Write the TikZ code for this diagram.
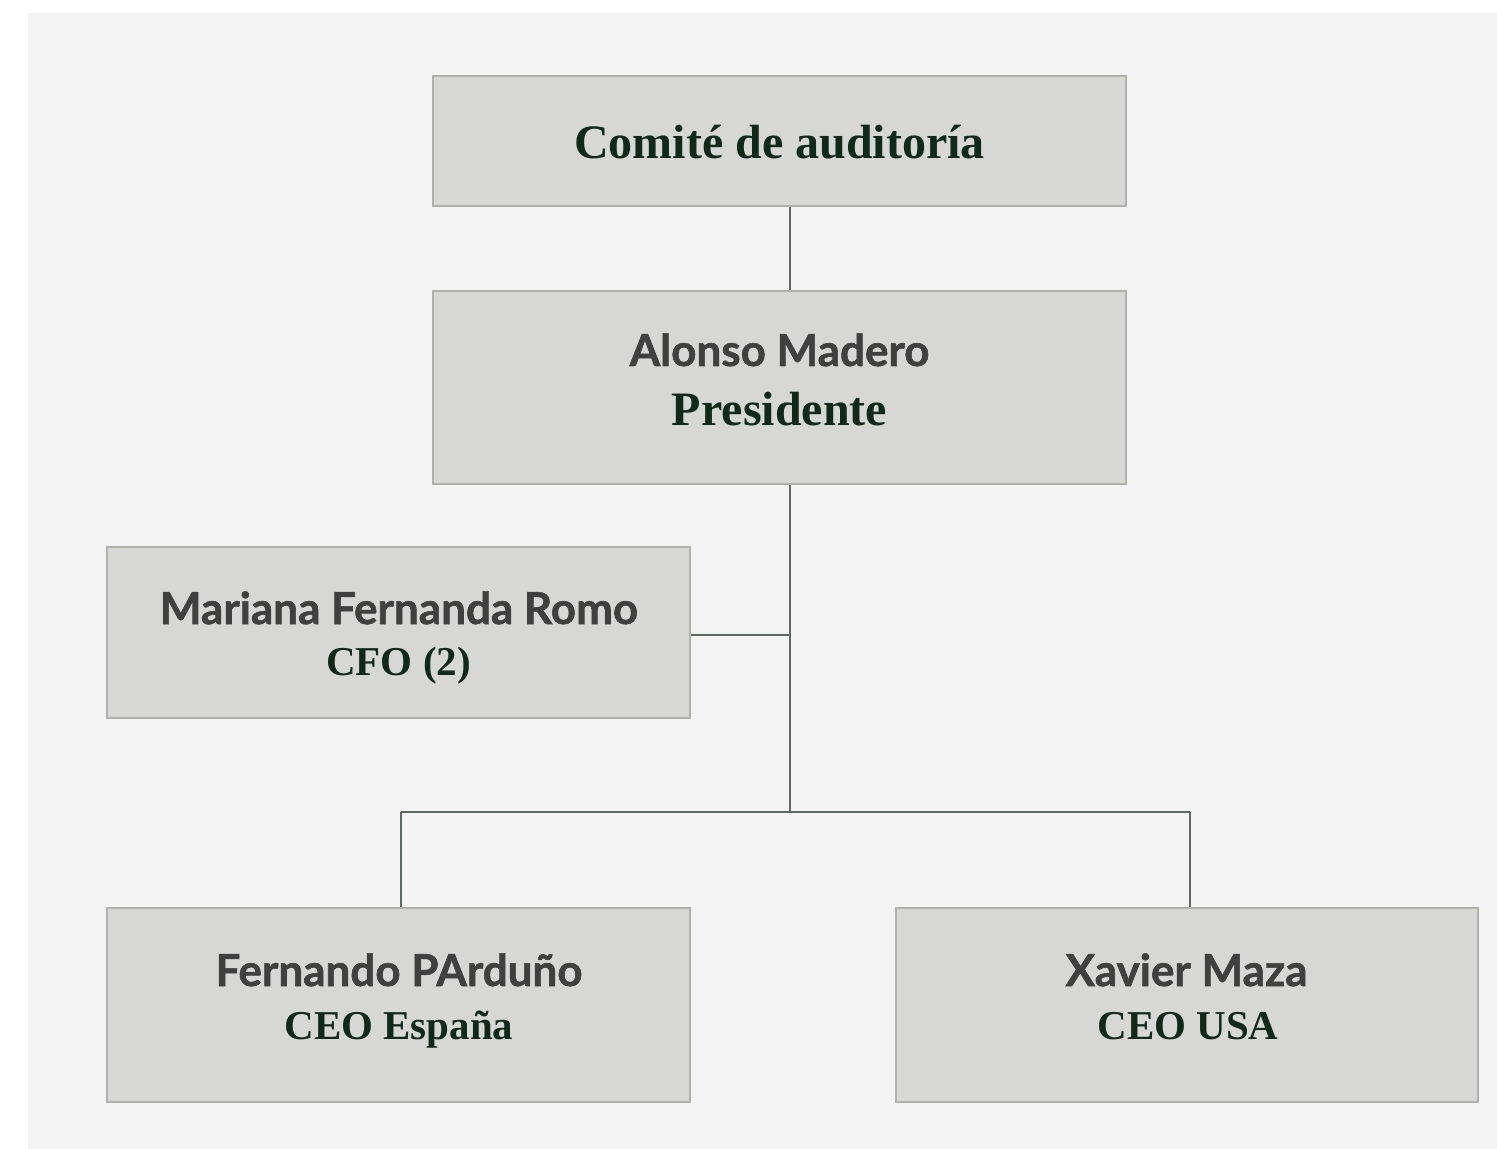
\documentclass[tikz,border=0pt]{standalone}
\usepackage{fontspec}
\setmainfont{Liberation Serif}
\newfontfamily\namefont{Lato}[BoldFeatures={FakeBold=1.3}]
\definecolor{bgc}{HTML}{F3F3F3}
\definecolor{boxfill}{HTML}{D7D7D5}
\definecolor{boxline}{HTML}{B1B1AC}
\definecolor{conn}{HTML}{5B6B5F}
\definecolor{namec}{HTML}{404040}
\definecolor{titlec}{HTML}{0F2A1A}
\tikzset{
  box/.style={draw=boxline, fill=boxfill, line width=1.3pt, inner sep=0pt},
  nametxt/.style={anchor=base, inner sep=0pt, text=namec, font=\namefont\bfseries\fontsize{22}{26}\selectfont},
  bigtitle/.style={anchor=base, inner sep=0pt, text=titlec, font=\bfseries\fontsize{24}{28}\selectfont},
  smalltitle/.style={anchor=base, inner sep=0pt, text=titlec, font=\bfseries\fontsize{20.5}{24}\selectfont},
  link/.style={draw=conn, line width=1.4pt}
}
\begin{document}
\begin{tikzpicture}[x=0.5pt,y=-0.5pt]
\useasboundingbox (0,0) rectangle (1497,1149);
\fill[bgc] (28,13) rectangle (1497,1149);
% boxes
\node[box, minimum width=346.5pt, minimum height=65pt] (top) at (779.5,141) {};
\node[box, minimum width=346.5pt, minimum height=96.5pt] (pres) at (779.5,387.5) {};
\node[box, minimum width=291.5pt, minimum height=85.5pt] (mar) at (398.5,632.5) {};
\node[box, minimum width=291.5pt, minimum height=97pt] (fer) at (398.5,1005) {};
\node[box, minimum width=291pt, minimum height=97pt] (xav) at (1187,1005) {};
% texts
\node[bigtitle] (topt) at (779.5,159) {Comité de auditoría};
\node[nametxt] (presn) at (779.5,366) {Alonso Madero};
\node[bigtitle] (prest) at (779.5,426) {Presidente};
\node[nametxt] (marn) at (399,624) {Mariana Fernanda Romo};
\node[smalltitle] (mart) at (398.5,675) {CFO (2)};
\node[nametxt] (fern) at (399,986) {Fernando PArduño};
\node[smalltitle] (fert) at (399,1039) {CEO España};
\node[nametxt] (xavn) at (1186.5,986) {Xavier Maza};
\node[smalltitle] (xavt) at (1188,1039) {CEO USA};
% connectors
\coordinate (j1) at (790,635);
\coordinate (j2) at (790,812);
\coordinate (j3) at (401,812);
\coordinate (j4) at (1190,812);
\draw[link] (top.south -| j1) -- (pres.north -| j1);
\draw[link] (pres.south -| j1) -- (j2);
\draw[link] (mar.east |- j1) -- (j1);
\draw[link] (j3) -- (j4);
\draw[link] (j3) -- (fer.north -| j3);
\draw[link] (j4) -- (xav.north -| j4);
\end{tikzpicture}
\end{document}
